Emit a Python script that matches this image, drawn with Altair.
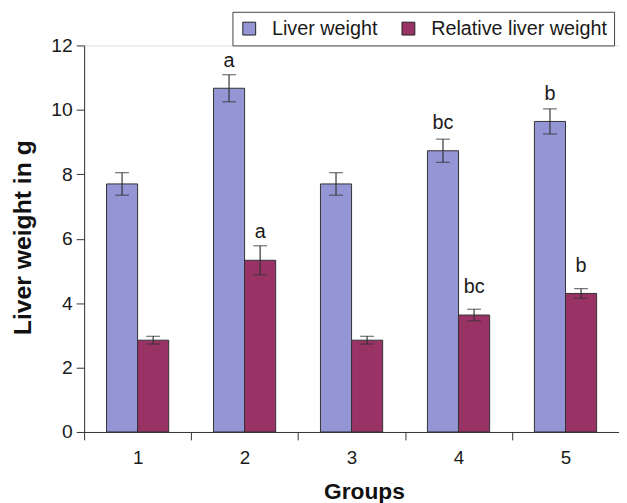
import altair as alt
import pandas as pd

groups = ["1", "2", "3", "4", "5"]
series = ["Liver weight", "Relative liver weight"]
liver_weight = [7.70, 10.67, 7.70, 8.73, 9.64]
liver_weight_se = [0.35, 0.42, 0.35, 0.36, 0.39]
relative_weight = [2.85, 5.33, 2.85, 3.63, 4.30]
relative_weight_se = [0.12, 0.45, 0.12, 0.18, 0.15]
liver_letters = ["", "a", "", "bc", "b"]
relative_letters = ["", "a", "", "bc", "b"]
liver_letter_y = [None, 11.51, None, 9.59, 10.50]
relative_letter_y = [None, 6.20, None, 4.51, 5.16]
y_ticks = [0, 2, 4, 6, 8, 10, 12]

colors = ["#9395D5", "#993366"]

rows = []
for i, g in enumerate(groups):
    rows.append(dict(group=g, series=series[0], value=liver_weight[i],
                     lo=liver_weight[i] - liver_weight_se[i],
                     hi=liver_weight[i] + liver_weight_se[i],
                     letter=liver_letters[i], letter_y=liver_letter_y[i]))
    rows.append(dict(group=g, series=series[1], value=relative_weight[i],
                     lo=relative_weight[i] - relative_weight_se[i],
                     hi=relative_weight[i] + relative_weight_se[i],
                     letter=relative_letters[i], letter_y=relative_letter_y[i]))
df = pd.DataFrame(rows)

x_enc = alt.X(
    "group:N",
    sort=groups,
    scale=alt.Scale(paddingInner=0, paddingOuter=0),
    axis=alt.Axis(
        title="Groups", labelAngle=0, tickBand="extent", tickSize=8,
        labelPadding=9, labelFontSize=19, titleFontSize=23,
        titleFontWeight="bold", titleX=283, titleY=67,
        titleBaseline="alphabetic", titleAlign="center",
    ),
)
xo_enc = alt.XOffset("series:N", sort=series,
                     scale=alt.Scale(paddingOuter=0.72, paddingInner=0))
y_scale = alt.Scale(domain=[0, 12], nice=False)
y_axis = alt.Axis(
    title="Liver weight in g", values=y_ticks, tickSize=8, labelPadding=4,
    labelFontSize=19.5, titleFontSize=25, titleFontWeight="bold",
    titleAngle=270, titleX=-54, titleY=194, titleBaseline="alphabetic",
    titleAlign="center", grid=False,
)

base = alt.Chart(df)

bars = base.mark_bar(stroke="#333333", strokeWidth=1).encode(
    x=x_enc,
    xOffset=xo_enc,
    y=alt.Y("value:Q", scale=y_scale, axis=y_axis),
    fill=alt.Fill(
        "series:N",
        scale=alt.Scale(domain=series, range=colors),
        legend=alt.Legend(
            title=None, orient="none", direction="horizontal",
            legendX=150, legendY=-34, symbolType="square", symbolSize=169,
            symbolStrokeColor="#222222", symbolStrokeWidth=1,
            labelFontSize=20, labelColor="#1a1a1a", labelOffset=13,
            labelLimit=400, columnPadding=21, padding=7,
            strokeColor="#444444", fillColor="white",
        ),
    ),
)

rules = base.mark_rule(color="#333333", strokeWidth=1.2).encode(
    x=x_enc, xOffset=xo_enc,
    y=alt.Y("lo:Q", scale=y_scale, axis=y_axis), y2="hi:Q",
)
caps_lo = base.mark_tick(orient="horizontal", size=14, thickness=1.2,
                         color="#333333").encode(
    x=x_enc, xOffset=xo_enc, y=alt.Y("lo:Q", scale=y_scale, axis=y_axis),
)
caps_hi = base.mark_tick(orient="horizontal", size=14, thickness=1.2,
                         color="#333333").encode(
    x=x_enc, xOffset=xo_enc, y=alt.Y("hi:Q", scale=y_scale, axis=y_axis),
)
letters = base.transform_filter("datum.letter != ''").mark_text(
    fontSize=20, baseline="middle", color="#1a1a1a"
).encode(
    x=x_enc, xOffset=xo_enc,
    y=alt.Y("letter_y:Q", scale=y_scale, axis=y_axis),
    text="letter:N",
)

chart = alt.layer(bars, rules, caps_lo, caps_hi, letters).properties(
    width=541, height=391,
    autosize=alt.AutoSizeParams(type="none"),
    padding={"left": 77, "top": 35, "right": 0, "bottom": 70},
).configure_view(stroke=None).configure(
    font="Liberation Sans",
).configure_axis(
    domainColor="#333333", tickColor="#333333", labelColor="#1a1a1a",
    titleColor="#111111", labelFont="Liberation Sans", titleFont="Liberation Sans",
)

chart.save("out.html", embed_options={"renderer": "svg", "actions": False})
